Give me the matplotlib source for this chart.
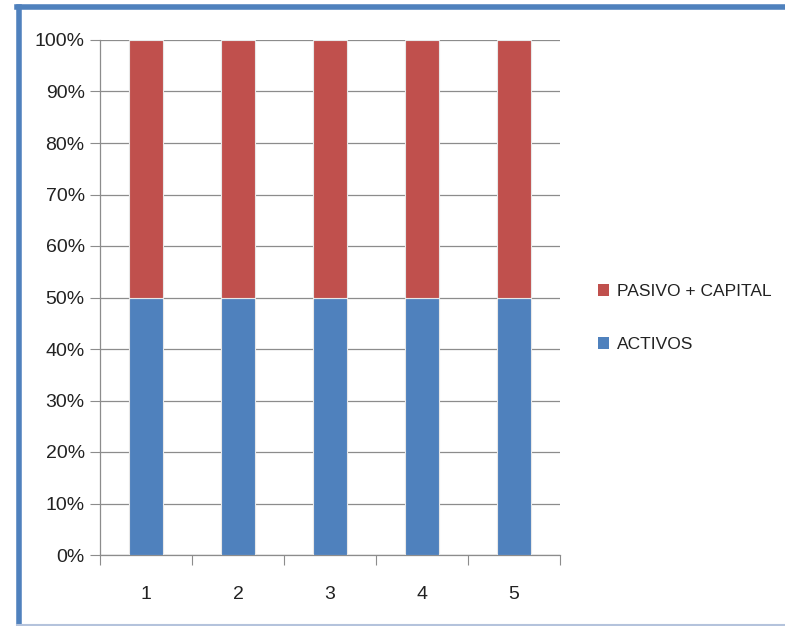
import matplotlib
matplotlib.use("Agg")
import matplotlib.pyplot as plt
from matplotlib.lines import Line2D
from matplotlib.patches import Patch
import numpy as np

categories = ["1", "2", "3", "4", "5"]
activos = [50, 50, 50, 50, 50]
pasivo_capital = [50, 50, 50, 50, 50]
yticklabels = ["0%", "10%", "20%", "30%", "40%", "50%", "60%", "70%", "80%", "90%", "100%"]

plt.rcParams['font.family'] = ['Liberation Sans', 'DejaVu Sans']

fig = plt.figure(figsize=(7.85, 6.26), dpi=100)
ax = fig.add_axes([100/785, 1-555/626, 460/785, 515/626])

a = np.array(activos, float)
p = np.array(pasivo_capital, float)
tot = a + p
a_pct = a / tot * 100
p_pct = p / tot * 100
x = np.arange(len(categories))
blue = '#4F81BD'
red = '#C0504D'
ax.bar(x, a_pct, width=0.38, color=blue, edgecolor='#e8e8e8', linewidth=0.8, zorder=3)
ax.bar(x, p_pct, bottom=a_pct, width=0.38, color=red, edgecolor='#e8e8e8', linewidth=0.8, zorder=3)

ax.set_xlim(-0.5, len(categories) - 0.5)
ax.set_ylim(0, 100)
ax.set_yticks(np.arange(0, 101, 10))
ax.set_yticklabels(yticklabels, fontsize=14, color='#222222')
ax.yaxis.grid(True, color='#8c8c8c', linewidth=0.9, zorder=0)
ax.set_xticks(np.arange(-0.5, len(categories), 1.0))
ax.set_xticklabels([])
ax.set_xticks(x, minor=True)
ax.set_xticklabels(categories, minor=True, fontsize=14, color='#222222')
ax.tick_params(axis='x', which='major', length=7, color='#8c8c8c', direction='out')
ax.tick_params(axis='x', which='minor', length=0, pad=22)
ax.tick_params(axis='y', length=7, color='#8c8c8c', pad=4)
for s in ['top', 'right']:
    ax.spines[s].set_visible(False)
for s in ['left', 'bottom']:
    ax.spines[s].set_color('#8c8c8c')
    ax.spines[s].set_linewidth(0.9)

handles = [Patch(facecolor=red, edgecolor='none'), Patch(facecolor=blue, edgecolor='none')]
fig.legend(handles, ["PASIVO + CAPITAL", "ACTIVOS"], loc='center left',
           bbox_to_anchor=(582/785, 1-318/626), frameon=False, fontsize=12.5,
           handlelength=0.65, handleheight=0.65, handletextpad=0.45, labelspacing=2.2,
           labelcolor='#222222')

# frame around the chart
fig.add_artist(Line2D([17/785, 1], [1-7/626, 1-7/626], color='#4F81BD', linewidth=4, transform=fig.transFigure))
fig.add_artist(Line2D([19/785, 19/785], [0, 1-7/626], color='#4F81BD', linewidth=4, transform=fig.transFigure))
fig.add_artist(Line2D([17/785, 1], [1.5/626, 1.5/626], color='#b4c3dc', linewidth=1.5, transform=fig.transFigure))

fig.savefig("out.png", dpi=100)
